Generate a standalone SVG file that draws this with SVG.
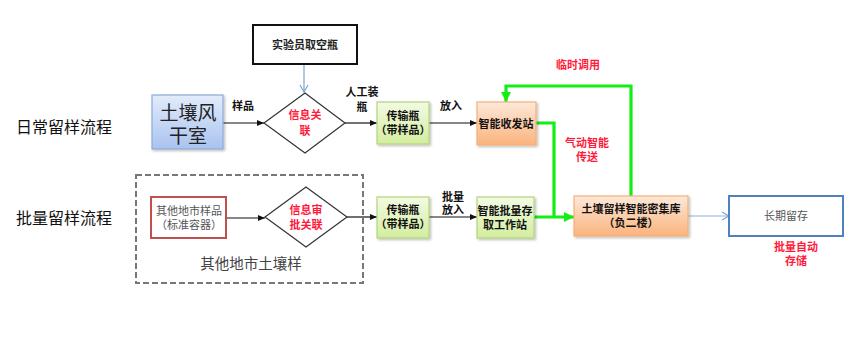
<svg xmlns="http://www.w3.org/2000/svg" width="850" height="351" viewBox="0 0 850 351">
<style>
text{font-family:"Liberation Serif","Noto Sans CJK SC",serif;text-anchor:middle;dominant-baseline:central}
.b{font-weight:bold}
.lbl{font-size:11px;font-weight:bold;fill:#111}
.red{font-size:11px;font-weight:bold;fill:#ff1a3c}
.blk{stroke:#111;stroke-width:1.2;fill:none}
.grn{stroke:#14ee14;stroke-width:3.2;fill:none}
.gbox{fill:url(#gG);stroke:#b3d47e;stroke-width:1.2}
.obox{fill:url(#gO);stroke:#f5b07a;stroke-width:1.2}
.dia{fill:#fff;stroke:#333;stroke-width:1.2}
</style>
<defs>
<linearGradient id="gB" x1="0" y1="0" x2="0" y2="1"><stop offset="0" stop-color="#e2ecfb"/><stop offset="1" stop-color="#a9c3ef"/></linearGradient>
<linearGradient id="gG" x1="0" y1="0" x2="0" y2="1"><stop offset="0" stop-color="#f3fbe3"/><stop offset="1" stop-color="#d3ed9e"/></linearGradient>
<linearGradient id="gO" x1="0" y1="0" x2="0" y2="1"><stop offset="0" stop-color="#fde9da"/><stop offset="1" stop-color="#fbb37c"/></linearGradient>
<filter id="sh" x="-10%" y="-10%" width="130%" height="130%"><feDropShadow dx="1.5" dy="1.5" stdDeviation="1" flood-color="#000" flood-opacity="0.25"/></filter>
<marker id="aK" markerWidth="8" markerHeight="8" refX="7" refY="4" orient="auto" markerUnits="userSpaceOnUse"><path d="M0,1 L7,4 L0,7 Z" fill="#111"/></marker>
<marker id="aBl" markerWidth="10" markerHeight="10" refX="8" refY="5" orient="auto" markerUnits="userSpaceOnUse"><path d="M1,1 L8,5 L1,9" fill="none" stroke="#7ea2d6" stroke-width="1.2"/></marker>
<marker id="aG" markerWidth="12" markerHeight="12" refX="10" refY="6" orient="auto" markerUnits="userSpaceOnUse"><path d="M0,1 L10,6 L0,11 Z" fill="#14ee14"/></marker>
</defs>

<text x="64" y="127" font-size="16" fill="#111">日常留样流程</text>
<text x="64" y="218" font-size="16" fill="#111">批量留样流程</text>

<g id="edges">
<path d="M304,64 V92" fill="none" stroke="#7ea2d6" stroke-width="1.2" marker-end="url(#aBl)"/>
<path class="blk" d="M223,123 H264" marker-end="url(#aK)"/>
<path class="blk" d="M345,123 H377" marker-end="url(#aK)"/>
<path class="blk" d="M429,123 H477" marker-end="url(#aK)"/>
<path class="blk" d="M226,218 H265" marker-end="url(#aK)"/>
<path class="blk" d="M347,217 H377" marker-end="url(#aK)"/>
<path class="blk" d="M429,217 H477" marker-end="url(#aK)"/>
<path class="grn" d="M536,123 H554 V217"/>
<path class="grn" d="M534,217 H574" marker-end="url(#aG)"/>
<path class="grn" d="M631,196 V86 H506 V102" marker-end="url(#aG)"/>
<path d="M688,216 H729" fill="none" stroke="#8fb0dc" stroke-width="1.2" marker-end="url(#aBl)"/>
<text class="lbl" x="243" y="106">样品</text>
<text class="lbl" x="362" y="92">人工装</text>
<text class="lbl" x="362" y="107">瓶</text>
<text class="lbl" x="451" y="106">放入</text>
<text class="lbl" x="453" y="197">批量</text>
<text class="lbl" x="453" y="210">放入</text>
<text class="red" x="578" y="65">临时调用</text>
<text class="red" x="587" y="143">气动智能</text>
<text class="red" x="587" y="157">传送</text>
<text class="red" x="796" y="247">批量自动</text>
<text class="red" x="796" y="261">存储</text>
</g>

<g id="n-lab">
<rect x="253" y="25" width="104" height="39" fill="#fff" stroke="#111" stroke-width="2"/>
<text x="305" y="45" font-size="11" class="b" fill="#222">实验员取空瓶</text>
</g>
<g id="n-dry">
<rect x="152" y="95" width="71" height="54" fill="url(#gB)" stroke="#8eaadb" stroke-width="1.2" filter="url(#sh)"/>
<text x="188" y="113" font-size="19" fill="#222">土壤风</text>
<text x="188" y="136" font-size="19" fill="#222">干室</text>
</g>
<g id="n-info1">
<polygon class="dia" points="305,93 345,123 305,153 264,123"/>
<text class="red" x="305" y="115" font-weight="normal">信息关</text>
<text class="red" x="305" y="131" font-weight="normal">联</text>
</g>
<g id="n-bottle1">
<rect class="gbox" x="377" y="102" width="52" height="42" filter="url(#sh)"/>
<text class="lbl" x="403" y="116">传输瓶</text>
<text class="lbl" x="403" y="130">（带样品）</text>
</g>
<g id="n-station">
<rect class="obox" x="477" y="102" width="59" height="43" filter="url(#sh)"/>
<text class="lbl" x="506" y="124">智能收发站</text>
</g>
<g id="n-group">
<rect x="136" y="175" width="227" height="108" fill="none" stroke="#777" stroke-width="2" stroke-dasharray="6,3"/>
<text x="251" y="264" font-size="14.5" fill="#444">其他地市土壤样</text>
</g>
<g id="n-other">
<rect x="151" y="197" width="75" height="41" fill="#fff" stroke="#c0504d" stroke-width="2"/>
<text x="189" y="211" font-size="11" fill="#555">其他地市样品</text>
<text x="189" y="225" font-size="11" fill="#555">（标准容器）</text>
</g>
<g id="n-info2">
<polygon class="dia" points="306,187 347,217 306,247 265,217"/>
<text class="red" x="306" y="210">信息审</text>
<text class="red" x="306" y="225">批关联</text>
</g>
<g id="n-bottle2">
<rect class="gbox" x="377" y="197" width="52" height="41" filter="url(#sh)"/>
<text class="lbl" x="403" y="210">传输瓶</text>
<text class="lbl" x="403" y="224">（带样品）</text>
</g>
<g id="n-batch">
<rect class="gbox" x="477" y="197" width="57" height="41" filter="url(#sh)"/>
<text class="lbl" x="505" y="211">智能批量存</text>
<text class="lbl" x="505" y="225">取工作站</text>
</g>
<g id="n-store">
<rect class="obox" x="574" y="196" width="114" height="40" filter="url(#sh)"/>
<text class="lbl" x="631" y="209">土壤留样智能密集库</text>
<text class="lbl" x="631" y="223">（负二楼）</text>
</g>
<g id="n-long">
<rect x="729" y="196" width="114" height="40" fill="#fff" stroke="#4f81bd" stroke-width="2"/>
<text x="786" y="216" font-size="11" fill="#555">长期留存</text>
</g>
</svg>
